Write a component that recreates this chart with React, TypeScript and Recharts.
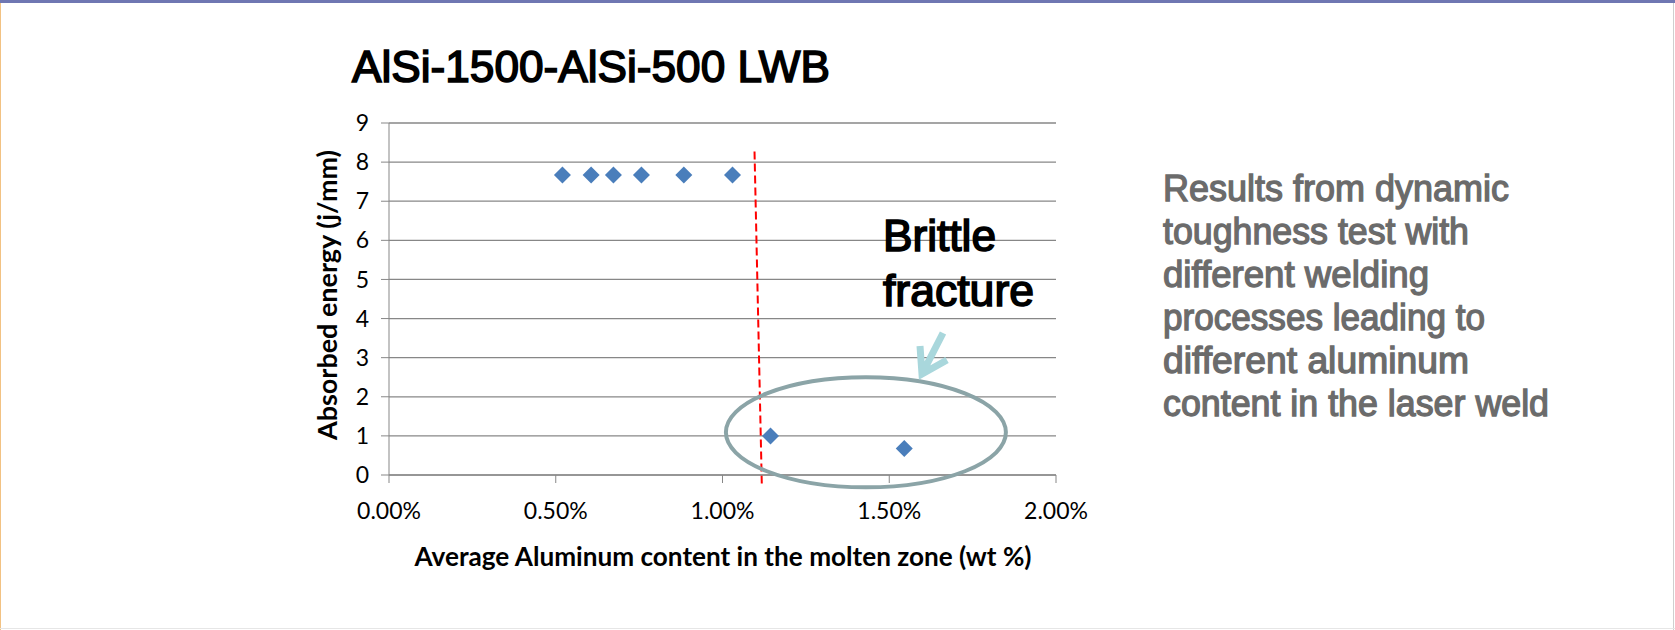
import React from "react";
import { ScatterChart, Scatter, XAxis, YAxis, CartesianGrid, ReferenceLine, ReferenceDot } from "recharts";

// measured values
const aluminumPct = [0.52, 0.606, 0.673, 0.757, 0.884, 1.03, 1.144, 1.545];
const absorbedEnergy = [7.67, 7.67, 7.67, 7.67, 7.67, 7.67, 1.0, 0.68];
const xTicks = [0, 0.5, 1, 1.5, 2];
const yTicks = [0, 1, 2, 3, 4, 5, 6, 7, 8, 9];
const thresholdLine = [{ x: 1.096, y: 8.27 }, { x: 1.118, y: -0.3 }];
const brittleZone = { x: 1.43, y: 1.09 };

const title = "AlSi-1500-AlSi-500 LWB";
const xTitle = "Average Aluminum content in the molten zone (wt %)";
const yTitle = "Absorbed energy (j/mm)";
const brittleLabel = ["Brittle", "fracture"];
const noteLines = [
  "Results from dynamic",
  "toughness test with",
  "different welding",
  "processes leading to",
  "different aluminum",
  "content in the laser weld",
];
const noteWidths = [346, 306, 266, 322, 306, 386];

const points = aluminumPct.map((x, i) => ({ x, y: absorbedEnergy[i] }));

const grid = "#878787";
const tickFont = "Lato, 'Open Sans', sans-serif";
const sans = "'Liberation Sans', Arial, sans-serif";

const Diamond = (p: any) => {
  const { cx, cy } = p;
  const r = 8.5;
  return <path d={`M${cx},${cy - r}L${cx + r},${cy}L${cx},${cy + r}L${cx - r},${cy}Z`} fill="#4a7ebb" />;
};

const Ellipse = (p: any) => (
  <ellipse cx={p.cx} cy={p.cy} rx={140} ry={55} fill="none" stroke="#8ba4a7" strokeWidth={4} />
);

export default function App() {
  return (
    <div style={{ position: "fixed", left: 0, top: 0, width: 1675, height: 630, background: "#fff", overflow: "hidden" }}>
      <div style={{ position: "absolute", left: 0, top: 0 }}>
        <ScatterChart width={1675} height={630} margin={{ top: 123, right: 619, bottom: 95, left: 329 }}>
          <CartesianGrid vertical={false} stroke={grid} strokeWidth={1.3} />
          <XAxis
            type="number"
            dataKey="x"
            domain={[0, 2]}
            ticks={xTicks}
            height={60}
            tickFormatter={(v: number) => v.toFixed(2) + "%"}
            stroke={grid}
            tickSize={8}
            tickMargin={20}
            tick={{ fill: "#000", fontSize: 23, fontFamily: tickFont }}
          />
          <YAxis
            type="number"
            dataKey="y"
            domain={[0, 9]}
            ticks={yTicks}
            width={60}
            stroke={grid}
            tickSize={8}
            tickMargin={12}
            tick={{ fill: "#000", fontSize: 23, fontFamily: tickFont }}
          />
          <ReferenceDot x={brittleZone.x} y={brittleZone.y} shape={Ellipse} ifOverflow="visible" />
          <ReferenceLine segment={thresholdLine} stroke="#ff0000" strokeWidth={2} strokeDasharray="8 4" ifOverflow="visible" />
          <Scatter data={points} shape={Diamond} isAnimationActive={false} />
        </ScatterChart>
      </div>
      <svg width={1675} height={630} style={{ position: "absolute", left: 0, top: 0, pointerEvents: "none" }}>
        <rect x={0} y={0} width={1675} height={3} fill="#6f77b2" />
        <line x1={0.5} y1={3} x2={0.5} y2={630} stroke="#f2c283" />
        <line x1={1673.5} y1={3} x2={1673.5} y2={630} stroke="#cfcfcf" />
        <line x1={0} y1={628.5} x2={1675} y2={628.5} stroke="#e6e6e6" />
        <text x={352} y={82} fontSize={44} fontFamily={sans} stroke="#000" strokeWidth={1.6} textLength={478} lengthAdjust="spacingAndGlyphs" fill="#000">
          {title}
        </text>
        <text x={723} y={566} textAnchor="middle" fontSize={26} fontWeight="bold" fontFamily={tickFont} textLength={617} lengthAdjust="spacingAndGlyphs" fill="#000">
          {xTitle}
        </text>
        <text transform="translate(337,295) rotate(-90)" textAnchor="middle" fontSize={26} fontWeight="bold" fontFamily={tickFont} textLength={290} lengthAdjust="spacingAndGlyphs" fill="#000">
          {yTitle}
        </text>
        {brittleLabel.map((s, i) => (
          <text key={s} x={883} y={251 + i * 55} fontSize={44} fontFamily={sans} stroke="#000" strokeWidth={1.6} textLength={i === 0 ? 113 : 151} lengthAdjust="spacingAndGlyphs" fill="#000">
            {s}
          </text>
        ))}
        <path d="M943,333 L922,374 M920,346 L922,374 L947,360" fill="none" stroke="#a9d7dc" strokeWidth={7} />
        {noteLines.map((s, i) => (
          <text key={s} x={1163} y={201 + i * 43} fontSize={36} fontFamily={sans} stroke="#6b6b6b" strokeWidth={1.3} textLength={noteWidths[i]} lengthAdjust="spacingAndGlyphs" fill="#6b6b6b">
            {s}
          </text>
        ))}
      </svg>
    </div>
  );
}
